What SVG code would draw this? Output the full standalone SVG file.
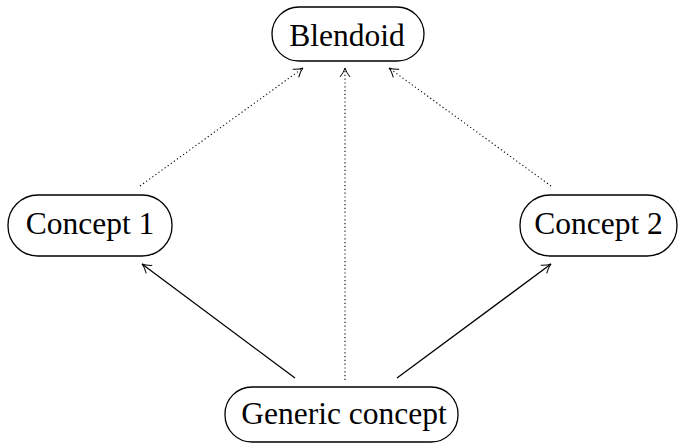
<svg xmlns="http://www.w3.org/2000/svg" width="680" height="446" viewBox="0 0 680 446">
<style>
.node rect{fill:#fff;stroke:#000;stroke-width:1.3}
.node text{font-family:"Liberation Serif","Times New Roman",serif;font-size:31.5px;fill:#000;text-anchor:middle}
.solid{stroke:#000;stroke-width:1.3;fill:none}
.dot{stroke:#000;stroke-width:1.1;fill:none;stroke-dasharray:1.2 2.6}
</style>
<defs>
<marker id="ah" markerWidth="14" markerHeight="14" refX="12" refY="7" orient="auto" markerUnits="userSpaceOnUse">
<path d="M3,2 Q8,6 12,7 Q8,8 3,12" fill="none" stroke="#000" stroke-width="1"/>
</marker>
</defs>
<g id="connectors">
<line class="solid" x1="295" y1="378" x2="142" y2="264" marker-end="url(#ah)"/>
<line class="solid" x1="397" y1="378" x2="551" y2="264" marker-end="url(#ah)"/>
<line class="dot" x1="345" y1="380" x2="345" y2="68" marker-end="url(#ah)"/>
<line class="dot" x1="140" y1="186" x2="303" y2="68" marker-end="url(#ah)"/>
<line class="dot" x1="551" y1="186" x2="389" y2="68" marker-end="url(#ah)"/>
</g>
<g id="blendoid" class="node">
<rect x="272" y="7" width="152" height="54" rx="27" ry="27"/>
<text x="347" y="46">Blendoid</text>
</g>
<g id="concept1" class="node">
<rect x="8" y="195" width="164" height="61" rx="30" ry="30"/>
<text x="90" y="234">Concept 1</text>
</g>
<g id="concept2" class="node">
<rect x="520" y="195" width="157" height="61" rx="30" ry="30"/>
<text x="598.5" y="234">Concept 2</text>
</g>
<g id="generic" class="node">
<rect x="225" y="387" width="233" height="55" rx="27" ry="27"/>
<text x="344" y="424">Generic concept</text>
</g>
</svg>
